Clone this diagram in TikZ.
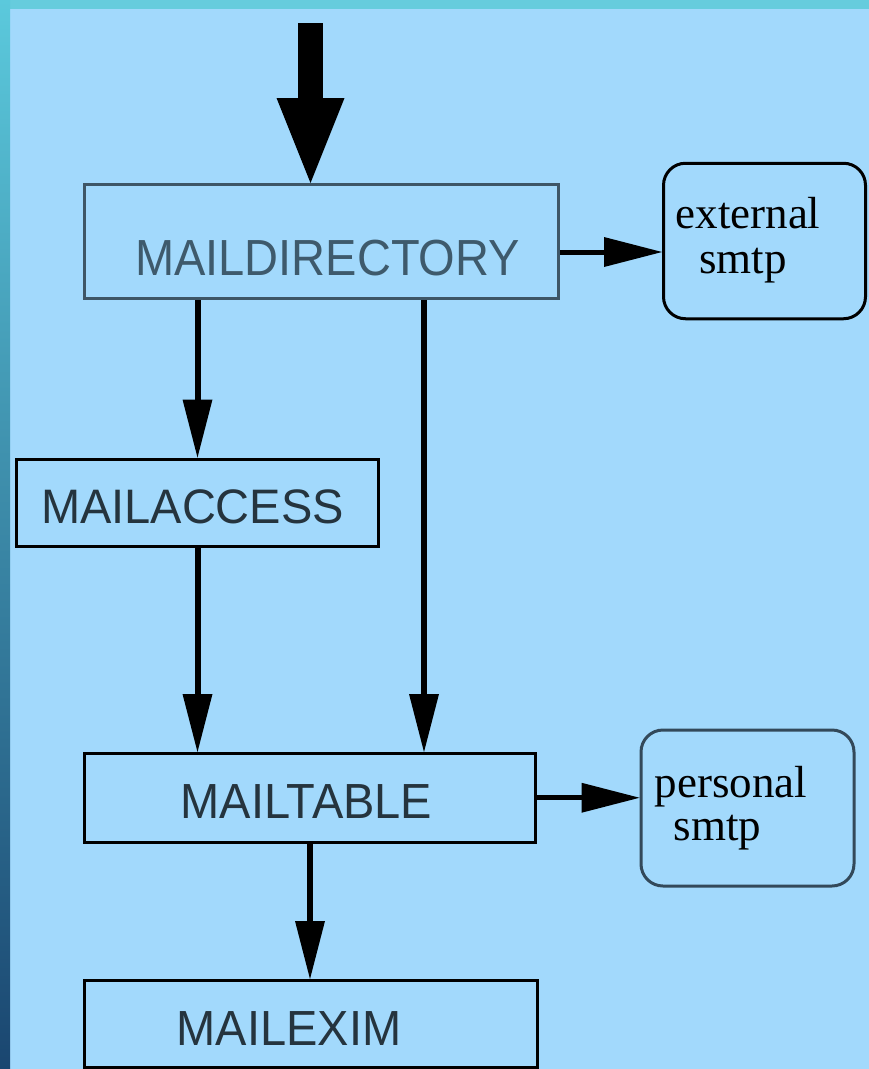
\documentclass[tikz,border=0pt]{standalone}
\usepackage{graphicx}
\usepackage{fontspec}
\setmainfont{Liberation Serif}
\newfontfamily\lsans{Liberation Sans}
\usetikzlibrary{arrows.meta,calc}
\definecolor{bg}{HTML}{A2D9FC}
\definecolor{topband}{HTML}{66CCDD}
\definecolor{leftA}{HTML}{5BC9DC}
\definecolor{leftB}{HTML}{1A4670}
\definecolor{slate}{HTML}{3E5666}
\definecolor{slateB}{HTML}{33495A}
\definecolor{lbltext}{HTML}{25343E}
\definecolor{lbltextB}{HTML}{3E5A6C}
\begin{document}
\begin{tikzpicture}[x=1pt,y=-1pt,
  box/.style={draw=black, line width=3pt, rectangle, inner sep=0pt},
  rbox/.style={draw=black, line width=3pt, rectangle, rounded corners=22pt, inner sep=0pt},
  lbl/.style={font=\lsans\fontsize{47}{47}\selectfont, text=lbltext, inner sep=0pt, anchor=base},
  slbl/.style={font=\fontsize{45}{45}\selectfont, text=black, inner sep=0pt, anchor=base},
  arr/.style={line width=6pt, -{Triangle[width=30pt,length=58pt,line width=0pt]}},
  bigarr/.style={line width=25pt, -{Triangle[width=68pt,length=85pt,line width=0pt]}}]
\useasboundingbox (0,0) rectangle (869,1069);
\fill[bg] (0,0) rectangle (869,1069);
\fill[topband] (0,0) rectangle (869,9);
\shade[top color=leftA, bottom color=leftB] (0,0) rectangle (10,1069);

% boxes
\node[box, draw=slate, minimum width=474pt, minimum height=114pt] (maildir) at (321.5,241.5) {};
\node[lbl, text=lbltextB] (maildirT) at (327.5,275) {\scalebox{1}[1.08]{MAILDIRECTORY}};

\node[box, minimum width=362pt, minimum height=87pt] (access) at (197.5,502.5) {};
\node[lbl] (accessT) at (192.5,523) {\scalebox{1}[1.03]{MAILACCESS}};

\node[box, minimum width=451.5pt, minimum height=88.5pt] (table) at (310,797.75) {};
\node[lbl] (tableT) at (306.5,818) {\scalebox{1}[1.05]{MAILTABLE}};

\node[box, minimum width=453pt, minimum height=86.5pt] (exim) at (311,1023.75) {};
\node[lbl] (eximT) at (289,1045) {\scalebox{1}[1.05]{MAILEXIM}};

\node[rbox, minimum width=202pt, minimum height=155.5pt] (ext) at (764.5,241) {};
\node[slbl] (extT1) at (748,228) {external};
\node[slbl] (extT2) at (743,273) {smtp};

\node[rbox, draw=slateB, minimum width=213pt, minimum height=156pt] (pers) at (747.5,808) {};
\node[slbl] (persT1) at (731,797) {personal};
\node[slbl] (persT2) at (717.5,840) {smtp};

% connectors
\coordinate (in) at (310.5,23);
\draw[bigarr] (in) -- (in |- maildir.north);

\draw[arr, line width=5pt] ([yshift=-10.5pt]maildir.east) -- ([yshift=-11pt]ext.west);
\draw[arr] (access.north |- maildir.south) -- (access.north);
\draw[arr] (access.south) -- (access.south |- table.north);
\coordinate (m2) at ([xshift=102.5pt]maildir.south);
\draw[arr] (m2) -- (m2 |- table.north);
\draw[arr, line width=5pt] (table.east) -- (table.east -| pers.west);
\draw[arr] (table.south) -- (table.south |- exim.north);
\end{tikzpicture}
\end{document}
